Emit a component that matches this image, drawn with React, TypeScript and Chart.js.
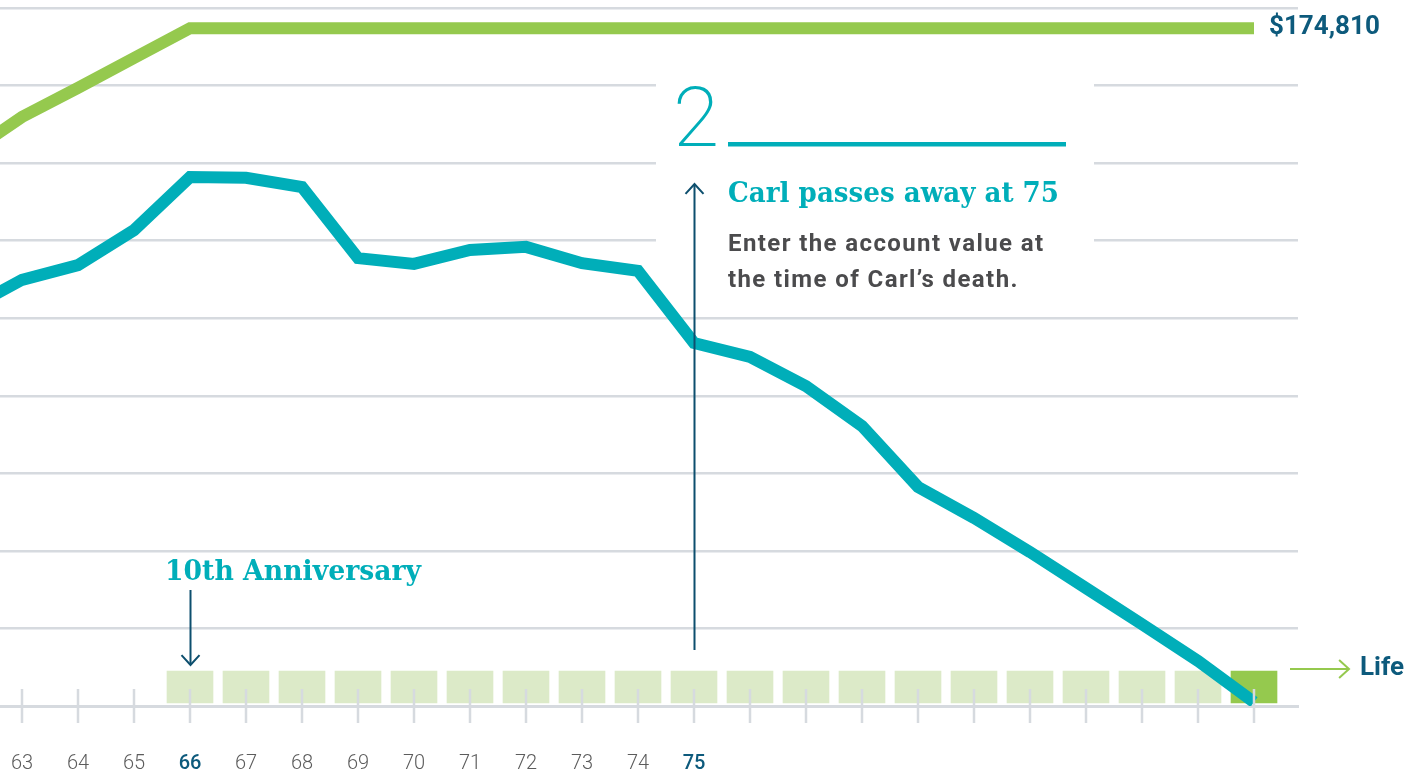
import React, { useEffect, useRef } from 'react';
import { Chart, registerables } from 'chart.js';

Chart.register(...registerables);

// ---- data ----
const AGES = [63, 64, 65, 66, 67, 68, 69, 70, 71, 72, 73, 74, 75, 76, 77, 78, 79, 80, 81, 82, 83, 84, 85];
const TICK_LABELS = ['63', '64', '65', '66', '67', '68', '69', '70', '71', '72', '73', '74', '75'];
const HIGHLIGHT_AGES = [66, 75];

const LINE_AGES = [62, 63, 64, 65, 66, 67, 68, 69, 70, 71, 72, 73, 74, 75, 76, 77, 78, 79, 80, 81, 82, 83, 84, 85];
const BENEFIT_BASE = [142100, 151900, 159400, 167100, 174810, 174810, 174810, 174810, 174810, 174810, 174810, 174810, 174810, 174810, 174810, 174810, 174810, 174810, 174810, 174810, 174810, 174810, 174810, 174810];
const ACCOUNT_VALUE = [102100, 109900, 113700, 122700, 136400, 136200, 133800, 115500, 114000, 117600, 118400, 114200, 112200, 93600, 90000, 82500, 72200, 56500, 48500, 39700, 30400, 21100, 11600, 1000];

const PAYMENT_AGES = [66, 67, 68, 69, 70, 71, 72, 73, 74, 75, 76, 77, 78, 79, 80, 81, 82, 83, 84, 85];
const PAYMENT_RANGE = [800, 9000];
const LAST_AGE = 85;

const BENEFIT_LABEL = '$174,810';

// ---- colours ----
const TEAL = '#00aeb9';
const GREEN = '#95c94e';
const LIGHT_GREEN = '#dceac8';
const DARK_BLUE = '#0d5a7c';
const ARROW_BLUE = '#0d4f6e';
const GRID = '#d6dadf';
const TEXT_GRAY = '#4b4b4d';
const TICK_GRAY = '#5c5c5c';

function drawArrowHead(ctx: CanvasRenderingContext2D, x: number, y: number, dir: 'up' | 'down' | 'right', size: number) {
  ctx.beginPath();
  if (dir === 'up') {
    ctx.moveTo(x - size, y + size * 1.1);
    ctx.lineTo(x, y);
    ctx.lineTo(x + size, y + size * 1.1);
  } else if (dir === 'down') {
    ctx.moveTo(x - size, y - size * 1.1);
    ctx.lineTo(x, y);
    ctx.lineTo(x + size, y - size * 1.1);
  } else {
    ctx.moveTo(x - size * 1.1, y - size);
    ctx.lineTo(x, y);
    ctx.lineTo(x - size * 1.1, y + size);
  }
  ctx.stroke();
}

const annotationPlugin = {
  id: 'annotations',
  beforeDatasetsDraw(chart: any) {
    const { ctx } = chart;
    ctx.save();
    ctx.fillStyle = '#ffffff';
    ctx.fillRect(656, 50, 1094 - 656, 250);
    ctx.restore();
  },
  afterDatasetsDraw(chart: any) {
    const { ctx, chartArea } = chart;
    const xs = chart.scales.x;
    const ys = chart.scales.y;
    const bottom = chartArea.bottom;
    ctx.save();

    // tick marks crossing the axis
    ctx.strokeStyle = GRID;
    ctx.lineWidth = 2.5;
    xs.ticks.forEach((t: any) => {
      const px = Math.round(xs.getPixelForValue(t.value));
      ctx.beginPath();
      ctx.moveTo(px, bottom - 17);
      ctx.lineTo(px, bottom + 17);
      ctx.stroke();
    });

    // benefit label
    const lastX = xs.getPixelForValue(LAST_AGE);
    const benY = ys.getPixelForValue(BENEFIT_BASE[BENEFIT_BASE.length - 1]);
    ctx.fillStyle = DARK_BLUE;
    ctx.font = 'bold 26px Roboto';
    ctx.textBaseline = 'middle';
    ctx.textAlign = 'left';
    ctx.fillText(BENEFIT_LABEL, lastX + 15, benY - 1);

    // Carl arrow
    const x75 = Math.round(xs.getPixelForValue(75)) + 0.5;
    ctx.strokeStyle = ARROW_BLUE;
    ctx.lineWidth = 2;
    ctx.beginPath();
    ctx.moveTo(x75, 650);
    ctx.lineTo(x75, 184);
    ctx.stroke();
    drawArrowHead(ctx, x75, 184, 'up', 9);

    // anniversary arrow
    const x66 = Math.round(xs.getPixelForValue(66)) + 0.5;
    ctx.beginPath();
    ctx.moveTo(x66, 590);
    ctx.lineTo(x66, 665);
    ctx.stroke();
    drawArrowHead(ctx, x66, 665, 'down', 9);

    // Life arrow
    ctx.strokeStyle = GREEN;
    ctx.lineWidth = 2;
    ctx.beginPath();
    ctx.moveTo(1290, 669);
    ctx.lineTo(1349, 669);
    ctx.stroke();
    drawArrowHead(ctx, 1349, 669, 'right', 9);
    ctx.fillStyle = DARK_BLUE;
    ctx.font = 'bold 26px Roboto';
    ctx.textBaseline = 'middle';
    ctx.fillText('Life', 1360, 668);

    // step number and underline
    ctx.textBaseline = 'alphabetic';
    ctx.fillStyle = TEAL;
    ctx.font = '200 84px Roboto';
    ctx.fillText('2', 673, 146);
    ctx.fillRect(728, 142, 1066 - 728, 4.5);

    // heading
    ctx.font = 'bold 27px "DejaVu Serif"';
    ctx.fillText('Carl passes away at 75', 728, 202, 331);
    ctx.fillText('10th Anniversary', 165, 580, 256);

    // body
    ctx.fillStyle = TEXT_GRAY;
    ctx.font = 'bold 24px Roboto';
    (ctx as any).letterSpacing = '1.4px';
    ctx.fillText('Enter the account value at', 728, 251, 318);
    ctx.fillText('the time of Carl\u2019s death.', 728, 287, 291);
    (ctx as any).letterSpacing = '0px';

    ctx.restore();
  },
};

export default function App() {
  const canvasRef = useRef<HTMLCanvasElement | null>(null);

  useEffect(() => {
    const canvas = canvasRef.current;
    if (!canvas) return;

    const chart = new Chart(canvas, {
      type: 'line',
      data: {
        datasets: [
          {
            label: 'Benefit base',
            data: LINE_AGES.map((a, i) => ({ x: a, y: BENEFIT_BASE[i] })),
            borderColor: GREEN,
            borderWidth: 12,
            pointRadius: 0,
            tension: 0,
            borderJoinStyle: 'miter',
            borderCapStyle: 'butt',
            fill: false,
            order: 1,
            clip: { left: 0, right: 0, top: 20, bottom: 0 },
          } as any,
          {
            label: 'Account value',
            data: LINE_AGES.map((a, i) => ({ x: a, y: ACCOUNT_VALUE[i] })),
            borderColor: TEAL,
            borderWidth: 12,
            pointRadius: 0,
            tension: 0,
            borderJoinStyle: 'miter',
            borderCapStyle: 'butt',
            fill: false,
            order: 0,
            clip: { left: 0, right: 0, top: 20, bottom: 0 },
          } as any,
          {
            type: 'bar',
            label: 'Payments',
            data: PAYMENT_AGES.map((a) => ({ x: a, y: PAYMENT_RANGE })),
            backgroundColor: PAYMENT_AGES.map((a) => (a === LAST_AGE ? GREEN : LIGHT_GREEN)),
            borderWidth: 0,
            barThickness: 46,
            order: 3,
          } as any,
        ],
      },
      options: {
        animation: false,
        responsive: false,
        devicePixelRatio: 1,
        layout: { padding: { left: 0, right: 110, top: 8, bottom: 0 } },
        plugins: {
          legend: { display: false },
          tooltip: { enabled: false },
        },
        scales: {
          x: {
            type: 'linear',
            offset: false,
            min: 63 - 22 / 56,
            max: 63 + 1276 / 56,
            afterBuildTicks: (axis: any) => {
              axis.ticks = AGES.map((v) => ({ value: v }));
            },
            afterFit: (axis: any) => {
              axis.height = 68;
              axis.paddingLeft = 0;
              axis.paddingRight = 0;
              axis.paddingTop = 0;
              axis.paddingBottom = 0;
            },
            grid: { display: true, drawOnChartArea: false, drawTicks: false },
            border: { display: true, color: GRID, width: 3 },
            ticks: {
              autoSkip: false,
              maxRotation: 0,
              padding: 46,
              callback: (value: any) => {
                const idx = AGES.indexOf(Number(value));
                return idx >= 0 && idx < TICK_LABELS.length ? TICK_LABELS[idx] : '';
              },
              color: (c: any) => (HIGHLIGHT_AGES.includes(c.tick?.value) ? DARK_BLUE : TICK_GRAY),
              font: (c: any) => ({
                family: 'Roboto',
                size: 20,
                weight: HIGHLIGHT_AGES.includes(c.tick?.value) ? '500' : '300',
              }),
            },
          },
          y: {
            min: 0,
            max: 180000,
            afterFit: (axis: any) => {
              axis.width = 0;
              axis.paddingTop = 0;
              axis.paddingBottom = 0;
              axis.paddingLeft = 0;
              axis.paddingRight = 0;
            },
            ticks: { display: false, stepSize: 20000 },
            grid: { color: GRID, lineWidth: 2.5, drawTicks: false },
            border: { display: false },
          },
        },
      } as any,
      plugins: [annotationPlugin],
    });

    return () => chart.destroy();
  }, []);

  return (
    <div style={{ position: 'fixed', left: 0, top: 0, width: 1408, height: 774, background: '#fff' }}>
      <canvas ref={canvasRef} width={1408} height={774} style={{ display: 'block' }} />
    </div>
  );
}
